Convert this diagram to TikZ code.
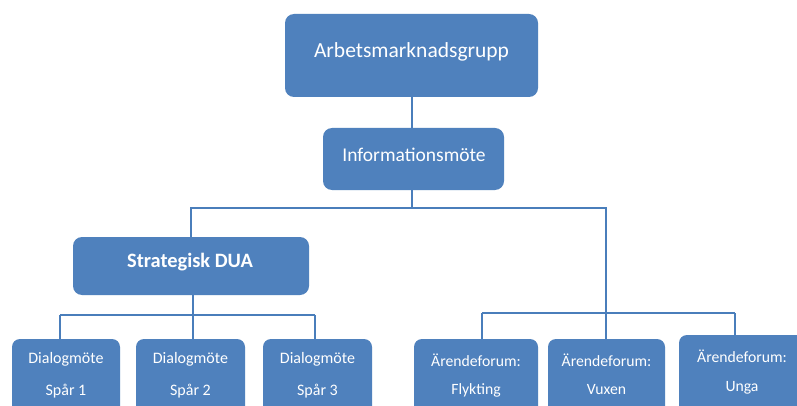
\documentclass[tikz,border=0pt]{standalone}
\usepackage{fontspec}
\setmainfont{Carlito}
\definecolor{boxblue}{HTML}{4F81BD}
\definecolor{lineblue}{HTML}{4A7EBB}
\begin{document}
\begin{tikzpicture}[x=1pt,y=-1pt,
  box/.style={draw=none,fill=boxblue,rounded corners=9pt,inner sep=0pt},
  txt/.style={text=white,inner sep=0pt,anchor=center},
  conn/.style={draw=lineblue,line width=2.2pt}]
\useasboundingbox (0,0) rectangle (797,406);
\fill[white] (0,0) rectangle (797,406);
% boxes
\node[box,minimum width=253pt,minimum height=83pt] (top) at (411.5,55.5) {};
\node[box,minimum width=181pt,minimum height=62pt] (info) at (413.5,159) {};
\node[box,minimum width=236pt,minimum height=58pt] (dua) at (191,266) {};
\node[box,minimum width=108pt,minimum height=80pt,rounded corners=8pt] (d1) at (66,379) {};
\node[box,minimum width=109pt,minimum height=80pt,rounded corners=8pt] (d2) at (190.5,379) {};
\node[box,minimum width=109pt,minimum height=80pt,rounded corners=8pt] (d3) at (317.5,379) {};
\node[box,minimum width=124pt,minimum height=80pt,rounded corners=8pt] (a1) at (476,379) {};
\node[box,minimum width=117pt,minimum height=80pt,rounded corners=8pt] (a2) at (606.5,379) {};
\node[box,minimum width=126pt,minimum height=84pt,rounded corners=8pt] (a3) at (742,377) {};
% texts
\node[txt,font=\fontsize{21.5}{24}\selectfont] (ttop) at (411.5,52) {Arbetsmarknadsgrupp};
\node[txt,font=\fontsize{19.5}{22}\selectfont] (tinfo) at (414,155) {Informationsmöte};
\node[txt,font=\fontsize{20.4}{23}\selectfont\bfseries] (tdua) at (190,262) {Strategisk DUA};
\foreach \n/\x/\s in {1/66/1,2/190.5/2,3/317.5/3}{
  \node[txt,font=\fontsize{16}{19}\selectfont] (td\n a) at (\x,359) {Dialogmöte};
  \node[txt,font=\fontsize{16}{19}\selectfont] (td\n b) at (\x,391) {Spår \s};
}
\node[txt,font=\fontsize{15.7}{19}\selectfont] (ta1a) at (476,360) {Ärendeforum:};
\node[txt,font=\fontsize{15.7}{19}\selectfont] (ta1b) at (476,390) {Flykting};
\node[txt,font=\fontsize{15.7}{19}\selectfont] (ta2a) at (606.5,360) {Ärendeforum:};
\node[txt,font=\fontsize{15.7}{19}\selectfont] (ta2b) at (606.5,390) {Vuxen};
\node[txt,font=\fontsize{15.7}{19}\selectfont] (ta3a) at (742,356) {Ärendeforum:};
\node[txt,font=\fontsize{15.7}{19}\selectfont] (ta3b) at (742,388) {Unga};
% connectors
\coordinate (j1) at (412,208);
\coordinate (j2) at (193,315);
\coordinate (j3) at (606,313);
\draw[conn] (top.south -| j1) -- (info.north -| j1);
\draw[conn] (info.south -| j1) -- (j1);
\draw[conn] (j1) -| (dua.north);
\draw[conn] (j1) -| (a2.north -| j3);
\draw[conn] (dua.south -| j2) -- (j2);
\coordinate (l1) at (60,315);
\coordinate (l3) at (315,315);
\draw[conn] (l1) -- (l3);
\draw[conn] (l1) -- (l1 |- d1.north);
\draw[conn] (j2) -- (j2 |- d2.north);
\draw[conn] (l3) -- (l3 |- d3.north);
\coordinate (r1) at (482,313);
\coordinate (r3) at (735,313);
\draw[conn] (r1) -- (r3);
\draw[conn] (r1) -- (r1 |- a1.north);
\draw[conn] (r3) -- (r3 |- a3.north);
\end{tikzpicture}
\end{document}
